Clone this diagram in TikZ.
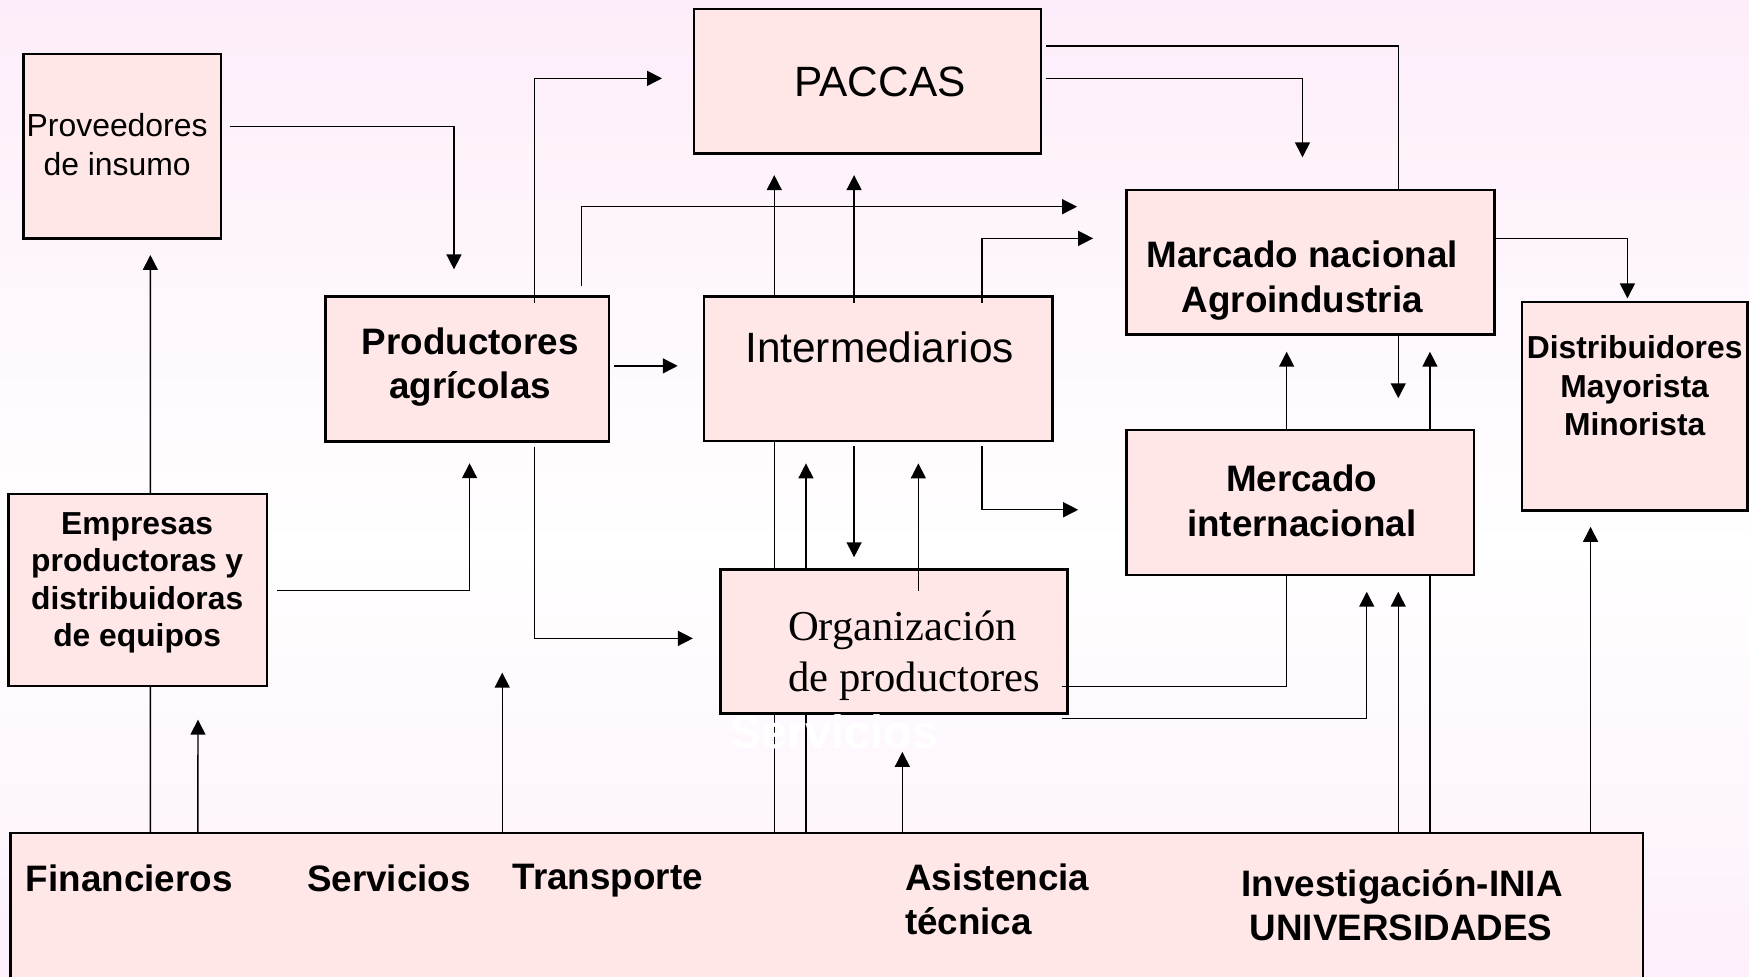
\documentclass[tikz,border=0pt]{standalone}
\usepackage{fontspec}
\setmainfont{Liberation Sans}
\newfontfamily\serifff{Liberation Serif}
\usetikzlibrary{arrows.meta,calc}
\definecolor{boxfill}{RGB}{255,231,231}
\definecolor{bgtop}{RGB}{253,237,250}
\definecolor{bgbot}{RGB}{253,240,252}
\pgfdeclareverticalshading{bgshade}{100bp}{color(0bp)=(bgbot); color(25bp)=(bgbot); color(47bp)=(white); color(75bp)=(bgtop); color(100bp)=(bgtop)}
\pgfdeclarelayer{bglayer}
\pgfsetlayers{bglayer,main}
\newcommand\fsReg{\fontsize{14.3pt}{17pt}\selectfont}
\newcommand\fsBig{\fontsize{19pt}{22pt}\selectfont}
\newcommand\fsBold{\fontsize{16.5pt}{19pt}\selectfont\bfseries}
\newcommand\fsBoldS{\fontsize{14.25pt}{17pt}\selectfont\bfseries}
\newcommand\fsSerif{\fontsize{19.1pt}{23pt}\selectfont\serifff}
\newcommand\fsWhite{\fontsize{21pt}{24pt}\selectfont\bfseries}
\begin{document}
\begin{tikzpicture}[x=0.5pt,y=-0.5pt,
  boxnode/.style={draw=black, line width=1.1pt, fill=boxfill, rectangle, inner sep=0pt, outer sep=0pt},
  lbl/.style={inner sep=0pt, outer sep=0pt, anchor=base},
  lblw/.style={inner sep=0pt, outer sep=0pt, anchor=base west},
  conn/.style={line width=0.65pt, draw=black},
  arr/.style={conn, -{Triangle[length=6.7pt,width=6.7pt]}}]

\useasboundingbox (0,0) rectangle (1568,875);
\clip (0,0) rectangle (1568,875);

% ---- boxes ----
\path
  node[boxnode, minimum width=88.5pt, minimum height=82.75pt] (prov) at (109.5,131.25) {}
  node[boxnode, minimum width=155.75pt, minimum height=64.75pt] (paccas) at (777.75,72.75) {}
  node[boxnode, minimum width=127pt, minimum height=65pt] (prod) at (419,331) {}
  node[boxnode, minimum width=156.15pt, minimum height=64.7pt] (inter) at (787.35,330.7) {}
  node[boxnode, minimum width=165pt, minimum height=64.7pt] (nac) at (1175,235) {}
  node[boxnode, minimum width=101pt, minimum height=93.5pt] (dist) at (1465.5,364) {}
  node[boxnode, minimum width=155.75pt, minimum height=64.9pt] (intl) at (1165.75,450.4) {}
  node[boxnode, minimum width=115.8pt, minimum height=86pt] (emp) at (123.5,528.8) {}
  node[boxnode, minimum width=155.6pt, minimum height=64.55pt] (org) at (801.6,575) {}
  node[boxnode, minimum width=731.75pt, minimum height=76.65pt] (bot) at (741,823.35) {};

% ---- helper coordinates ----
\coordinate (b134) at ($(bot.north west)+(125.5,0)$);
\coordinate (b177) at ($(bot.north west)+(168.2,0)$);
\coordinate (b450) at ($(bot.north west)+(441,0)$);
\coordinate (b694) at ($(bot.north west)+(684.9,0)$);
\coordinate (b722) at ($(bot.north west)+(713.3,0)$);
\coordinate (b809) at ($(bot.north west)+(799.7,0)$);
\coordinate (b1254) at ($(bot.north west)+(1244.3,0)$);
\coordinate (b1282) at ($(bot.north west)+(1272.7,0)$);
\coordinate (b1426) at ($(bot.north west)+(1416.7,0)$);
\coordinate (tipI) at ($(inter.south)+(0,20)$);
\coordinate (tipO) at ($(org.south)+(0,34.5)$);
\coordinate (tipP) at ($(paccas.south)+(0,19.5)$);
\coordinate (tipN) at ($(nac.south)+(0,15.6)$);
\coordinate (tipM) at ($(intl.south)+(0,15.2)$);
\coordinate (tipD) at ($(intl.north)+(0,-28.5)$);
\coordinate (tipDi) at ($(dist.south)+(0,14.8)$);
\coordinate (tipT) at ($(bot.north west)+(441,-143.7)$);
\coordinate (x766) at ($(inter.north west)+(134.5,5.4)$);
\coordinate (x880) at ($(inter.north west)+(249.2,5.4)$);
\coordinate (d400) at ($(inter.south)+(0,4.6)$);
\coordinate (tDown) at ($(org.north)+(0,-10.9)$);
\coordinate (x823) at ($(org.north west)+(177.3,19.2)$);
\coordinate (x1153) at ($(intl.south west)+(143.5,0)$);

% ---- background and connectors passing behind boxes ----
\begin{pgfonlayer}{bglayer}
  \shade[shading=bgshade] (0,0) rectangle (1568,875);
  \draw[arr] (b134) -- ($(prov.south)+(25.3,14.6)$);
  \draw[conn] (b694) -- (b694 |- inter.south);
  \draw[arr] (b722) -- (b722 |- tipI);
  \draw[arr] (b1282) -- (b1282 |- tipN);
\end{pgfonlayer}

% ---- connectors on top ----
\draw[arr] ($(prov.east)+(8,-18)$) -| ($(prod.north)+(-12,-24.5)$);
\draw[arr] ($(prod.north)+(60,5.8)$) |- ($(paccas.west)+(-28.5,-2.5)$);
\draw[arr] ($(prod.north)+(102.5,-9.6)$) |- ($(nac.west)+(-44.4,-49.7)$);
\draw[arr] ($(prod.east)+(4.3,-3)$) -- ($(inter.west)+(-23.6,-2.7)$);
\draw[arr] ($(prod.south)+(60,4.5)$) |- ($(org.west)+(-24.8,-2.7)$);
\draw[arr] ($(emp.east)+(9.3,0.5)$) -| ($(prod.south)+(2,19.3)$);
\draw[arr] (b177) -- ($(emp.south)+(54,30.4)$);
\draw[arr] (b450) -- (tipT);
\draw[arr] (b809) -- (b809 |- tipO);
\draw[arr] (inter.north -| b694) -- (b694 |- tipP);
\draw[arr] (x766) -- (x766 |- tipP);
\draw[arr] (x880) |- ($(nac.west)+(-30,-21.3)$);
\draw[arr] (x766 |- d400) -- (x766 |- tDown);
\draw[arr] (x880 |- d400) |- ($(intl.west)+(-43.4,6.6)$);
\draw[arr] (x823) -- (x823 |- tipI);
\draw[conn] ($(org.east)+(-5.4,40.6)$) -| (x1153);
\draw[arr] (x1153 |- intl.north) -- (x1153 |- tipN);
\draw[arr] ($(org.east)+(-5.4,69)$) -| ($(intl.south west)+(215.3,15.2)$);
\draw[arr] (b1254) -- (b1254 |- tipM);
\draw[arr] (b1254 |- nac.south) -- (b1254 |- tipD);
\draw[conn] ($(paccas.east)+(4.3,-31.5)$) -| (b1254 |- nac.north);
\draw[arr] ($(paccas.east)+(4.3,-2.5)$) -| ($(nac.north)+(-7.3,-29.3)$);
\draw[arr] ($(nac.east)+(0,-21.3)$) -| ($(dist.north)+(-6.5,-3)$);
\draw[arr] (b1426) -- (b1426 |- tipDi);

% ---- texts ----
\node[lbl, font=\fsReg] (tprov1) at (105,122) {Proveedores};
\node[lbl, font=\fsReg] (tprov2) at (105,157) {de insumo};
\node[lbl, font=\fsBig] (tpac) at (789,86.5) {PACCAS};
\node[lbl, font=\fsBold] (tprod1) at (421.5,318) {Productores};
\node[lbl, font=\fsBold] (tprod2) at (421.5,357) {agrícolas};
\node[lbl, font=\fsBig] (tint) at (788.5,325) {Intermediarios};
\node[lbl, font=\fsBold] (tnac1) at (1167.5,240) {Marcado nacional};
\node[lbl, font=\fsBold] (tnac2) at (1167.5,280) {Agroindustria};
\node[lbl, font=\fsBoldS] (tdis1) at (1465.5,321) {Distribuidores};
\node[lbl, font=\fsBoldS] (tdis2) at (1465.5,356) {Mayorista};
\node[lbl, font=\fsBoldS] (tdis3) at (1465.5,390) {Minorista};
\node[lbl, font=\fsBold] (tintl1) at (1167,441) {Mercado};
\node[lbl, font=\fsBold] (tintl2) at (1167,481) {internacional};
\node[lbl, font=\fsBoldS] (temp1) at (123,479) {Empresas};
\node[lbl, font=\fsBoldS] (temp2) at (123,512.5) {productoras y};
\node[lbl, font=\fsBoldS] (temp3) at (123,546) {distribuidoras};
\node[lbl, font=\fsBoldS] (temp4) at (123,580) {de equipos};
\node[lblw, font=\fsSerif] (torg1) at (706.6,574) {Organización};
\node[lblw, font=\fsSerif] (torg2) at (706.6,620) {de productores};
\node[lblw, font=\fsWhite, text=white] (tserw) at (654.5,670.6) {Servicios};
\node[lblw, font=\fsBold] (tfin) at (23.2,799) {Financieros};
\node[lblw, font=\fsBold] (tser) at (275.4,799) {Servicios};
\node[lblw, font=\fsBold] (ttra) at (459.6,797.5) {Transporte};
\node[lblw, font=\fsBold] (tasi1) at (811.4,798.3) {Asistencia};
\node[lblw, font=\fsBold] (tasi2) at (811.4,837.8) {técnica};
\node[lbl, font=\fsBold] (tinv1) at (1257,803.3) {Investigación-INIA};
\node[lbl, font=\fsBold] (tinv2) at (1256,842.8) {UNIVERSIDADES};
\end{tikzpicture}
\end{document}
